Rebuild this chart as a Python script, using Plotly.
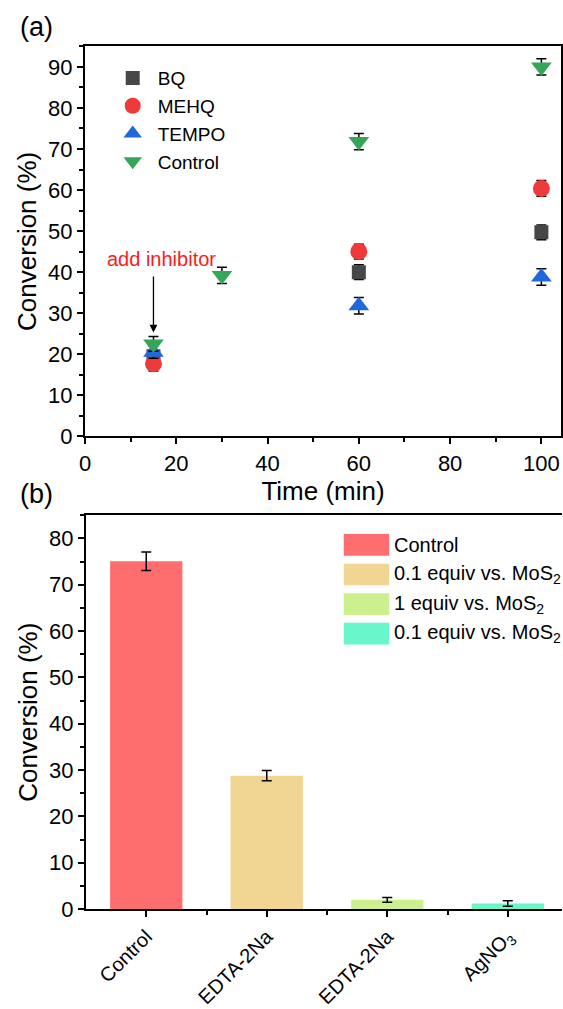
import plotly.graph_objects as go

W, H = 563, 1009

# ---------------- data: panel (a) ----------------
time_min = [15, 60, 100]
time_ctrl = [15, 30, 60, 100]
bq = [19.5, 40.0, 49.7]
bq_err = [1.0, 1.8, 1.8]
mehq = [17.7, 45.0, 60.4]
mehq_err = [1.8, 1.8, 1.9]
tempo = [20.5, 31.8, 38.8]
tempo_err = [1.5, 2.0, 2.0]
control = [22.5, 39.2, 71.8, 90.0]
control_err = [1.8, 2.0, 2.0, 2.0]

# ---------------- data: panel (b) ----------------
bar_labels = ["Control", "EDTA-2Na", "EDTA-2Na", "AgNO<sub>3</sub>"]
bar_legend = ["Control", "0.1 equiv vs. MoS<sub>2</sub>", "1 equiv vs. MoS<sub>2</sub>",
              "0.1 equiv vs. MoS<sub>2</sub>"]
bar_values = [75.1, 28.8, 2.0, 1.2]
bar_err = [2.0, 1.1, 0.5, 0.6]
bar_colors = ["#ff6e6e", "#f1d592", "#cdf08f", "#68f7cb"]

FONT = "Liberation Sans, Arial, sans-serif"


def px_x(p):
    return p / W


def px_y(p):
    return 1 - p / H


fig = go.Figure()

markers = [
    ("BQ", time_min, bq, bq_err, "square", "#474747", 14),
    ("MEHQ", time_min, mehq, mehq_err, "circle", "#ee3a3a", 17),
    ("TEMPO", time_min, tempo, tempo_err, "triangle-up", "#1f68dd", 18),
    ("Control", time_ctrl, control, control_err, "triangle-down", "#33a65a", 18),
]
for name, xs, ys, es, sym, col, sz in markers:
    fig.add_trace(go.Scatter(
        x=xs, y=ys, mode="markers", name=name,
        marker=dict(symbol=sym, color=col, size=sz, line=dict(width=0)),
        error_y=dict(type="data", array=es, color="black", thickness=1.5, width=5),
        xaxis="x", yaxis="y", legend="legend",
    ))

xb = list(range(len(bar_values)))
for i in xb:
    fig.add_trace(go.Bar(
        x=[xb[i]], y=[bar_values[i]], width=0.6,
        marker=dict(color=bar_colors[i], line=dict(width=0)),
        error_y=dict(type="data", array=[bar_err[i]], color="black", thickness=1.5, width=5),
        xaxis="x2", yaxis="y2", showlegend=False, name=bar_legend[i],
    ))

TICKFONT = dict(family=FONT, size=22, color="black")
TITLEFONT = dict(family=FONT, size=26, color="black")

axis_common = dict(
    showline=True, linecolor="black", linewidth=2,
    ticks="outside", ticklen=6, tickwidth=1.5, tickcolor="black",
    showgrid=False, zeroline=False,
)
minor_common = dict(ticklen=4, tickwidth=1.5, tickcolor="black", ticks="outside")

fig.update_layout(
    width=W, height=H,
    margin=dict(l=0, r=0, t=0, b=0),
    paper_bgcolor="white", plot_bgcolor="white",
    font=dict(family=FONT, color="black"),
    barmode="overlay",
    xaxis=dict(
        domain=[px_x(80), px_x(562)], range=[0, 104.3], anchor="y",
        tickvals=[0, 20, 40, 60, 80, 100], mirror=True, tickfont=TICKFONT,
        minor=dict(dtick=10, tick0=0, **minor_common),
        title=dict(text="Time (min)", font=TITLEFONT, standoff=0),
        **axis_common,
    ),
    yaxis=dict(
        domain=[px_y(442), px_y(47)], range=[0, 95], anchor="x",
        tickvals=list(range(0, 100, 10)), mirror=True, tickfont=TICKFONT,
        minor=dict(dtick=5, tick0=0, **minor_common),
        title=dict(text="Conversion (%)", font=TITLEFONT, standoff=4),
        **axis_common,
    ),
    xaxis2=dict(
        domain=[px_x(81), 1.0], range=[-0.5, 3.45], anchor="y2",
        tickmode="array", tickvals=xb, ticktext=bar_labels, tickangle=-45,
        mirror=True, tickfont=dict(family=FONT, size=20, color="black"),
        minor=dict(tickvals=[0.5, 1.5, 2.5], **minor_common),
        **axis_common,
    ),
    yaxis2=dict(
        domain=[px_y(921), px_y(522)], range=[0, 85], anchor="x2",
        tickvals=list(range(0, 90, 10)), tickfont=TICKFONT,
        minor=dict(dtick=5, tick0=0, **minor_common),
        title=dict(text="Conversion (%)", font=TITLEFONT, standoff=4),
        **axis_common,
    ),
    legend=dict(
        x=px_x(103), y=px_y(60), xanchor="left", yanchor="top",
        bgcolor="rgba(0,0,0,0)", borderwidth=0,
        font=dict(family=FONT, size=19, color="black"),
        itemsizing="trace", tracegroupgap=0, itemwidth=40,
    ),
)

# panel labels
fig.add_annotation(text="(a)", x=px_x(12), y=px_y(27), xref="paper", yref="paper",
                   xanchor="left", yanchor="middle", showarrow=False,
                   font=dict(family=FONT, size=27, color="black"))
fig.add_annotation(text="(b)", x=px_x(12), y=px_y(500), xref="paper", yref="paper",
                   xanchor="left", yanchor="middle", showarrow=False,
                   font=dict(family=FONT, size=27, color="black"))

# "add inhibitor" text and arrow
fig.add_annotation(text="add inhibitor", x=16.7, y=43.2, xref="x", yref="y",
                   showarrow=False, font=dict(family=FONT, size=20, color="#ff1a1a"))
fig.add_annotation(text="", x=15, y=25.3, xref="x", yref="y",
                   ax=15, ay=39.3, axref="x", ayref="y",
                   showarrow=True, arrowhead=2, arrowsize=1.2, arrowwidth=1.3,
                   arrowcolor="black")

# manual legend for panel (b)
row_y = [552, 582, 612, 642]
for i, yy in enumerate(row_y):
    fig.add_shape(type="rect", xref="paper", yref="paper",
                  x0=px_x(342), x1=px_x(388), y0=px_y(yy + 11), y1=px_y(yy - 11),
                  fillcolor=bar_colors[i], line=dict(width=0))
    fig.add_annotation(text=bar_legend[i], x=px_x(391), y=px_y(yy), xref="paper", yref="paper",
                       xanchor="left", yanchor="middle", showarrow=False,
                       font=dict(family=FONT, size=20, color="black"))

fig.write_html("out.html")
